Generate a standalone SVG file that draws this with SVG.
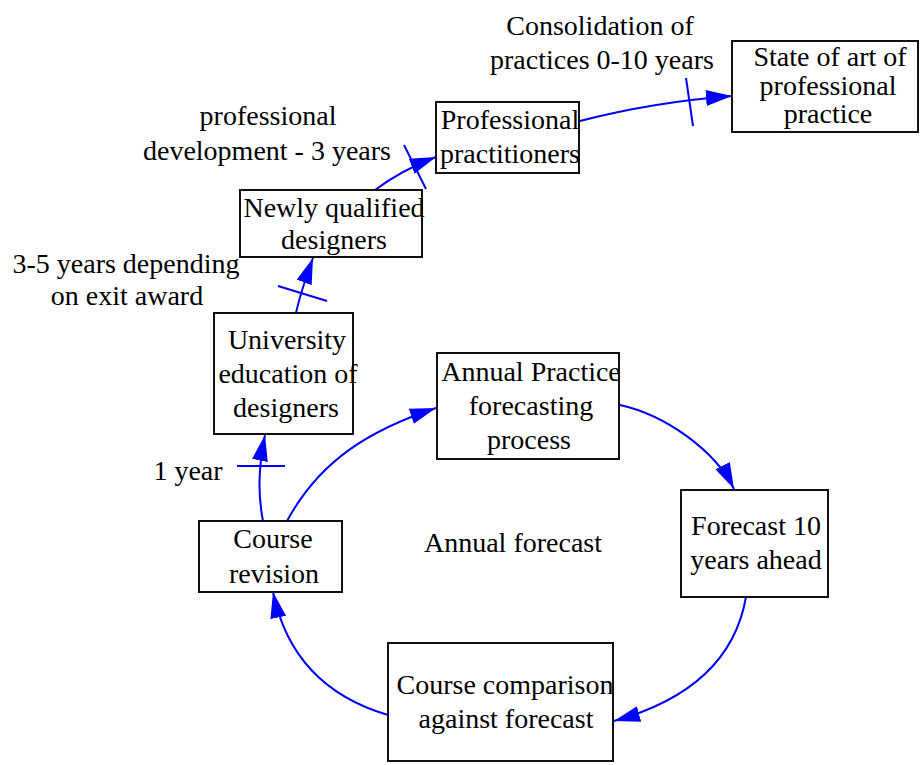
<svg xmlns="http://www.w3.org/2000/svg" width="922" height="765" viewBox="0 0 922 765">
<style>
  .box { fill: #ffffff; stroke: #111111; stroke-width: 2; }
  .t { font-family: "Liberation Serif", "Times New Roman", serif; font-size: 28px; fill: #000000; text-anchor: middle; }
  .edge { fill: none; stroke: #0000ff; stroke-width: 2; marker-end: url(#arrow); }
  .tick { stroke: #0000ff; stroke-width: 2; }
</style>
<defs>
  <marker id="arrow" markerUnits="userSpaceOnUse" markerWidth="28" markerHeight="18" refX="26" refY="8" orient="auto">
    <path d="M0,0 L26,8 L0,16 z" fill="#0000ff"/>
  </marker>
</defs>
<rect width="922" height="765" fill="#ffffff"/>

<g id="connectors">
  <path class="edge" d="M263,521 C258,495 258,470 265,435"/>
  <line class="tick" x1="237" y1="466" x2="285" y2="466"/>
  <path class="edge" d="M287,521 C320,460 370,430 436,408"/>
  <path class="edge" d="M620,405 C665,415 715,450 734,489"/>
  <path class="edge" d="M746,597 C735,660 690,700 614,721"/>
  <path class="edge" d="M388,715 C320,695 285,650 273,592"/>
  <path class="edge" d="M296,313 C300,295 305,280 313,258"/>
  <line class="tick" x1="278" y1="286" x2="327" y2="301"/>
  <path class="edge" d="M375,190 C395,175 415,165 436,157"/>
  <line class="tick" x1="404" y1="145" x2="426" y2="189"/>
  <path class="edge" d="M580,121 C630,108 680,100 732,96"/>
  <line class="tick" x1="686" y1="78" x2="693" y2="126"/>
</g>

<g id="label-consolidation">
  <text class="t" x="600" y="35">Consolidation of</text>
  <text class="t" x="602" y="69">practices 0-10 years</text>
</g>
<g id="label-development">
  <text class="t" x="268" y="125">professional</text>
  <text class="t" x="267" y="160">development - 3 years</text>
</g>
<g id="label-exit">
  <text class="t" x="126" y="273">3-5 years depending</text>
  <text class="t" x="127" y="305">on exit award</text>
</g>
<g id="label-year">
  <text class="t" x="188" y="480">1 year</text>
</g>
<g id="label-annual">
  <text class="t" x="513" y="552">Annual forecast</text>
</g>

<g id="node-state">
  <rect class="box" x="732" y="41" width="186" height="91"/>
  <text class="t" x="830" y="66">State of art of</text>
  <text class="t" x="828" y="95">professional</text>
  <text class="t" x="828" y="123">practice</text>
</g>
<g id="node-professional">
  <rect class="box" x="436" y="102" width="143" height="71"/>
  <text class="t" x="510" y="129">Professional</text>
  <text class="t" x="510" y="163">practitioners</text>
</g>
<g id="node-newly">
  <rect class="box" x="240" y="190" width="182" height="67"/>
  <text class="t" x="334" y="217">Newly qualified</text>
  <text class="t" x="334" y="249">designers</text>
</g>
<g id="node-university">
  <rect class="box" x="214" y="313" width="139" height="121"/>
  <text class="t" x="287" y="349">University</text>
  <text class="t" x="288" y="383">education of</text>
  <text class="t" x="286" y="417">designers</text>
</g>
<g id="node-annual">
  <rect class="box" x="437" y="353" width="182" height="106"/>
  <text class="t" x="531" y="381">Annual Practice</text>
  <text class="t" x="531" y="415">forecasting</text>
  <text class="t" x="529" y="449">process</text>
</g>
<g id="node-forecast">
  <rect class="box" x="681" y="490" width="147" height="107"/>
  <text class="t" x="756" y="535">Forecast 10</text>
  <text class="t" x="756" y="569">years ahead</text>
</g>
<g id="node-revision">
  <rect class="box" x="199" y="521" width="143" height="71"/>
  <text class="t" x="273" y="548">Course</text>
  <text class="t" x="274" y="583">revision</text>
</g>
<g id="node-comparison">
  <rect class="box" x="388" y="643" width="225" height="118"/>
  <text class="t" x="505" y="694">Course comparison</text>
  <text class="t" x="506" y="728">against forecast</text>
</g>
</svg>
